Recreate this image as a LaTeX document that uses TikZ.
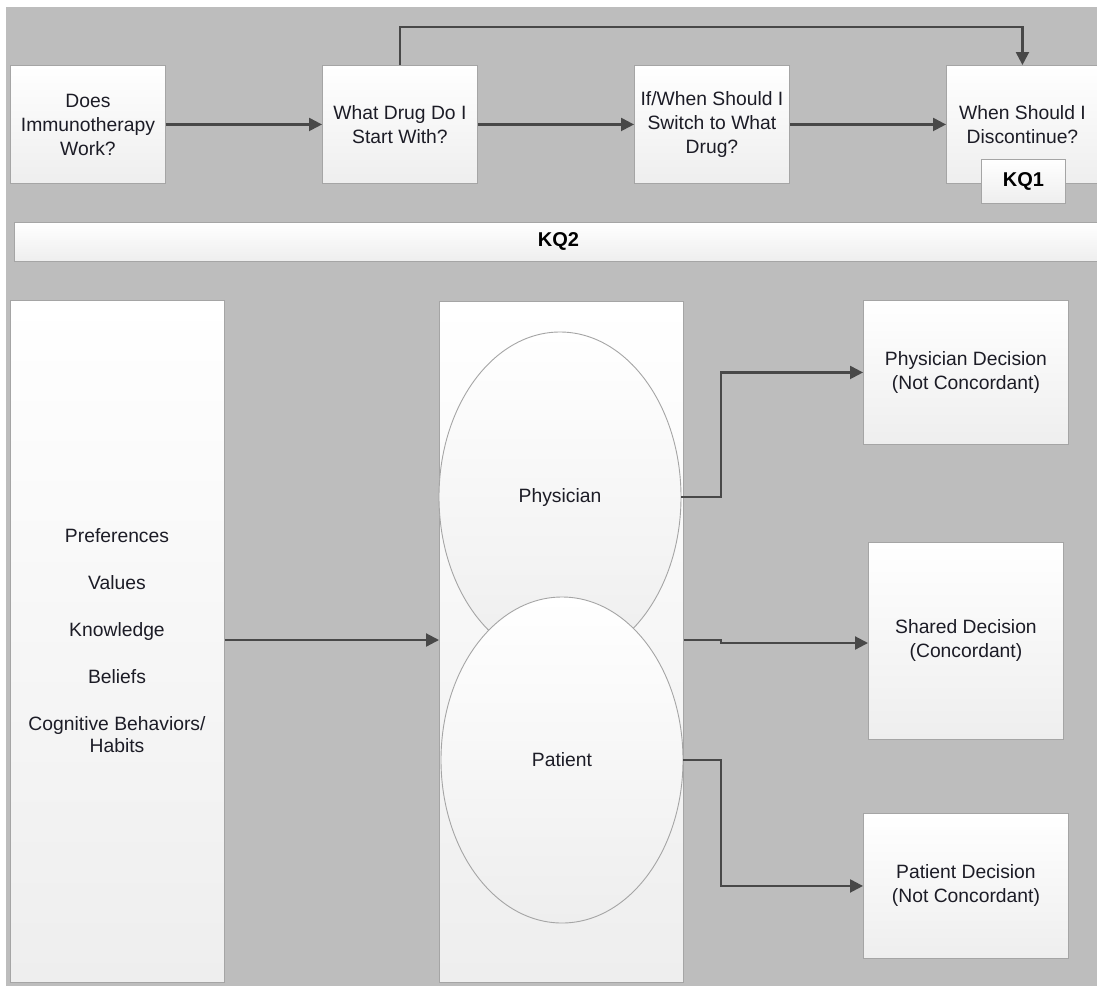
\documentclass[tikz,border=0pt]{standalone}
\usepackage{fontspec}
\setmainfont{Liberation Sans}
\usetikzlibrary{arrows.meta,shapes.geometric}
\definecolor{bg}{RGB}{189,189,189}
\definecolor{edge}{RGB}{165,165,165}
\definecolor{conn}{RGB}{72,72,72}
\definecolor{txt}{RGB}{28,28,38}
\definecolor{boxbot}{RGB}{238,238,238}
\begin{document}
\begin{tikzpicture}[x=1pt,y=-1pt,
  box/.style={draw=edge,line width=0.9pt,top color=white,bottom color=boxbot,
    inner sep=0pt,align=center,text=txt,font=\fontsize{19.3}{24}\selectfont,anchor=north west},
  bubble/.style={ellipse,draw=edge,line width=0.9pt,top color=white,bottom color=boxbot,
    inner sep=0pt,text=txt,font=\fontsize{19.3}{24}\selectfont},
  kq/.style={box,font=\fontsize{20}{24}\selectfont\bfseries,text=black},
  arr/.style={draw=conn,line width=2.2pt,-{Triangle[length=13pt,width=13pt]}},
  ln/.style={draw=conn,line width=2.2pt}]
\useasboundingbox (0,0) rectangle (1097,986);
\clip (0,0) rectangle (1097,986);
\fill[white] (0,0) rectangle (1097,986);
\fill[bg] (6,7) rectangle (1097,986);

% top row
\node[box,minimum width=155,minimum height=118] (b1) at (10,65) {Does\\Immunotherapy\\Work?};
\node[box,minimum width=155,minimum height=118] (b2) at (322,65) {What Drug Do I\\Start With?};
\node[box,minimum width=155,minimum height=118] (b3) at (634,65) {If/When Should I\\Switch to What\\Drug?};
\node[box,minimum width=152,minimum height=118] (b4) at (946,65) {When Should I\\Discontinue?};
\node[kq,minimum width=84,minimum height=44] (kq1) at (981,159) {KQ1};
\node[kq,minimum width=1088,minimum height=39] (kq2) at (14,222) {KQ2};

\coordinate (loop) at (0,27);
\draw[arr] (b1.east) -- (b2.west);
\draw[arr] (b2.east) -- (b3.west);
\draw[arr] (b3.east) -- (b4.west);
\draw[arr] (b2.north) -- (b2.north |- loop) -| (b4.north);

% lower part
\node[box,minimum width=214,minimum height=682] (left) at (10,300) {};
\node[text=txt,font=\fontsize{19.3}{24}\selectfont,align=center] (factors) at (117,641)
  {Preferences\\[23pt]Values\\[23pt]Knowledge\\[23pt]Beliefs\\[23pt]Cognitive Behaviors/\\[-2pt]Habits};
\node[box,minimum width=244,minimum height=681] (mid) at (439,301) {};
\node[bubble,minimum width=242,minimum height=330] (phys) at (560,497) {Physician};
\node[bubble,minimum width=242,minimum height=326] (pat) at (562,760) {Patient};

\node[box,minimum width=205,minimum height=144] (pd) at (863,300) {Physician Decision\\(Not Concordant)};
\node[box,minimum width=195,minimum height=197] (sd) at (868,542) {Shared Decision\\(Concordant)};
\node[box,minimum width=205,minimum height=145] (ptd) at (863,813) {Patient Decision\\(Not Concordant)};

\coordinate (jx) at (721,0);
\coordinate (ya) at (0,640);
\coordinate (yb) at (0,643);
\draw[arr] (left.east |- ya) -- (mid.west |- ya);
\draw[arr] (phys.east) -- (phys.east -| jx) |- (pd.west);
\draw[arr] (mid.east |- ya) -- (jx |- ya) -- (jx |- yb) -- (sd.west |- yb);
\draw[arr] (pat.east) -- (pat.east -| jx) |- (ptd.west);
\end{tikzpicture}
\end{document}
